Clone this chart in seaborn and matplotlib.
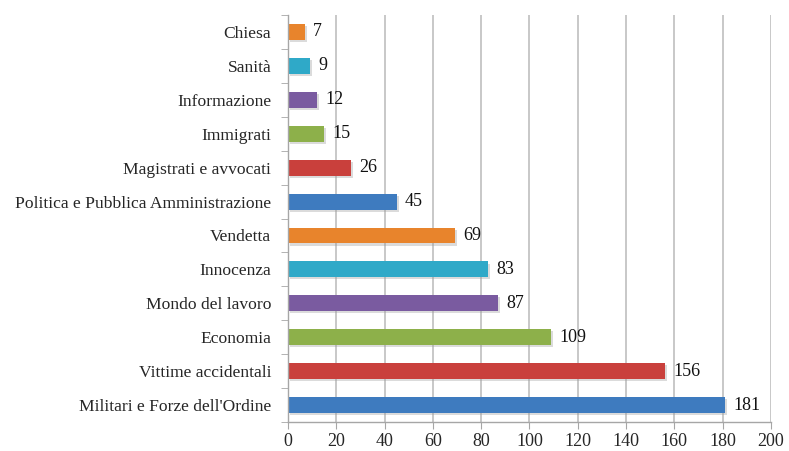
import matplotlib
matplotlib.use("Agg")
import matplotlib.pyplot as plt
import matplotlib.patheffects as pe
import seaborn as sns
import pandas as pd

# Data (top to bottom)
categories = ["Chiesa", "Sanità", "Informazione", "Immigrati", "Magistrati e avvocati",
              "Politica e Pubblica Amministrazione", "Vendetta", "Innocenza",
              "Mondo del lavoro", "Economia", "Vittime accidentali",
              "Militari e Forze dell'Ordine"]
values = [7, 9, 12, 15, 26, 45, 69, 83, 87, 109, 156, 181]
bar_colors = ["#E8842C", "#2FA9C8", "#7A5BA0", "#8DB04A", "#C9403C", "#3E7BBF",
              "#E8842C", "#2FA9C8", "#7A5BA0", "#8DB04A", "#C9403C", "#3E7BBF"]
x_ticks = list(range(0, 201, 20))

df = pd.DataFrame({"category": categories, "value": values})

sns.set_style("white")
plt.rcParams["font.family"] = ["Liberation Serif", "DejaVu Serif"]

fig = plt.figure(figsize=(7.89, 4.51), dpi=100)
ax = fig.add_axes([0.365, 0.064, 0.612, 0.903])

sns.barplot(data=df, x="value", y="category", hue="category", palette=bar_colors,
            legend=False, width=0.47, ax=ax, saturation=1, orient="h", linewidth=0)

# light drop shadow like the office chart
for bar in ax.patches:
    bar.set_edgecolor("none")
    bar.set_path_effects([pe.SimplePatchShadow(offset=(1.5, -1.5), shadow_rgbFace="#999999",
                                               alpha=0.35), pe.Normal()])

for cont in ax.containers:
    ax.bar_label(cont, padding=6, fontsize=13, color="#111111")

ax.set_xlim(0, 200)
ax.set_ylim(len(categories) - 0.5, -0.5)
ax.set_xticks(x_ticks)
ax.set_xlabel("")
ax.set_ylabel("")

# vertical grid lines
ax.grid(axis="x", color="#BFBFBF", linewidth=1.2)
ax.set_axisbelow(True)

for side in ["top", "right"]:
    ax.spines[side].set_visible(False)
for side in ["left", "bottom"]:
    ax.spines[side].set_color("#A6A6A6")
    ax.spines[side].set_linewidth(1.0)

# tick marks between categories on y axis
ax.set_yticks([i + 0.5 for i in range(-1, len(categories))], minor=True)
ax.tick_params(axis="y", which="major", length=0, pad=12, labelsize=12.6)
ax.tick_params(axis="y", which="minor", length=5, color="#A6A6A6", direction="out", left=True)
ax.tick_params(axis="x", which="major", length=5, color="#A6A6A6", direction="out",
               bottom=True, labelsize=13, pad=3)

fig.savefig("out.png", dpi=100)
